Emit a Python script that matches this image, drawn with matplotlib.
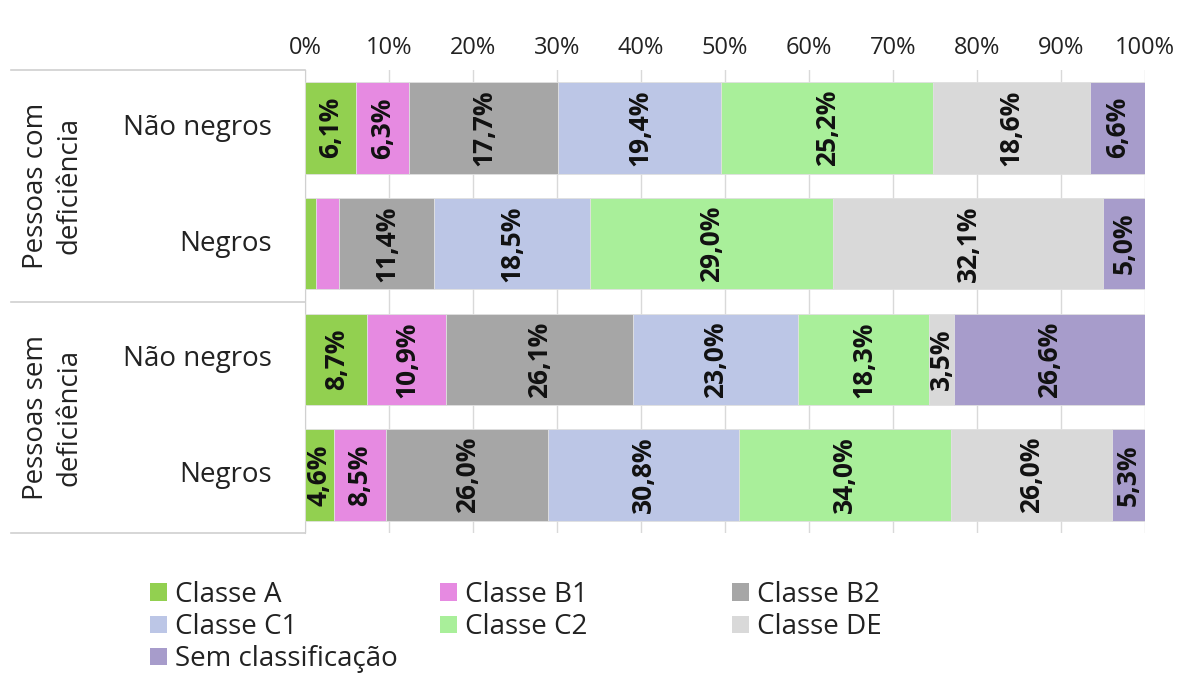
import matplotlib
matplotlib.use("Agg")
import matplotlib.pyplot as plt
from matplotlib.patches import Patch
from matplotlib.lines import Line2D
import numpy as np

plt.rcParams['font.family'] = ['Open Sans', 'DejaVu Sans']

# ---- data ----
groups = ["Pessoas com\ndeficiência", "Pessoas sem\ndeficiência"]
rows = ["Não negros", "Negros", "Não negros", "Negros"]
classes = ["Classe A", "Classe B1", "Classe B2", "Classe C1", "Classe C2",
           "Classe DE", "Sem classificação"]
classe_a = [6.1, 1.3, 8.7, 4.6]
classe_b1 = [6.3, 2.7, 10.9, 8.5]
classe_b2 = [17.7, 11.4, 26.1, 26.0]
classe_c1 = [19.4, 18.5, 23.0, 30.8]
classe_c2 = [25.2, 29.0, 18.3, 34.0]
classe_de = [18.6, 32.1, 3.5, 26.0]
sem_class = [6.6, 5.0, 26.6, 5.3]
show_label = [[True, False, True, True],
              [True, False, True, True],
              [True, True, True, True],
              [True, True, True, True],
              [True, True, True, True],
              [True, True, True, True],
              [True, True, True, True]]
xticks = [0, 10, 20, 30, 40, 50, 60, 70, 80, 90, 100]

colors = ["#92D050", "#E68AE1", "#A6A6A6", "#BCC6E6", "#A9EF9A",
          "#D9D9D9", "#A79CCB"]

series = np.array([classe_a, classe_b1, classe_b2, classe_c1, classe_c2,
                   classe_de, sem_class])
totals = series.sum(axis=0)
shares = series / totals * 100

W, H = 1182, 675
fig = plt.figure(figsize=(W / 100, H / 100), dpi=100)
ax_l, ax_r, ax_t, ax_b = 305, 1145, 70, 533
ax = fig.add_axes([ax_l / W, 1 - ax_b / H, (ax_r - ax_l) / W, (ax_b - ax_t) / H])

y = np.arange(len(rows))
left = np.zeros(len(rows))
handles = []
for i, cls in enumerate(classes):
    ax.barh(y, shares[i], left=left, height=0.79, color=colors[i],
            edgecolor="#E0E0E0", linewidth=0.6, zorder=3)
    for j in range(len(rows)):
        if show_label[i][j]:
            ax.text(left[j] + shares[i][j] / 2, y[j],
                    f"{series[i][j]:.1f}%".replace(".", ","),
                    rotation=90, ha="center", va="center",
                    fontsize=19, fontweight="bold", color="#111111", zorder=4)
    left += shares[i]
    handles.append(Patch(facecolor=colors[i], edgecolor="none", label=cls))

ax.set_xlim(0, 100)
ax.set_ylim(3.5, -0.5)
ax.set_xticks(xticks)
ax.set_xticklabels([f"{t}%" for t in xticks], fontsize=17, color="#222222")
ax.xaxis.tick_top()
ax.tick_params(axis="x", length=0, pad=7)
ax.set_yticks([])
ax.grid(axis="x", color="#D9D9D9", linewidth=1, zorder=0)
for s in ["top", "right", "bottom"]:
    ax.spines[s].set_visible(False)
ax.spines["left"].set_color("#D0D0D0")

# category labels
for j, r in enumerate(rows):
    ax.text(-0.039, y[j], r, transform=ax.get_yaxis_transform(),
            ha="right", va="center", fontsize=20, color="#222222")

# group labels
for g, name in enumerate(groups):
    yc = 2 * g + 0.5
    ax.text(-0.30, yc, name, transform=ax.get_yaxis_transform(),
            ha="center", va="center", rotation=90, fontsize=20,
            color="#222222", linespacing=1.25)

# table lines
for yy in [-0.5, 1.5, 3.5]:
    ax.add_line(Line2D([-0.35, 0], [yy, yy], transform=ax.get_yaxis_transform(),
                       color="#D0D0D0", linewidth=1.2, clip_on=False))

# legend: three columns placed side by side
col_x = [150, 440, 732]
for c in range(3):
    hs = handles[c::3]
    fig.legend(handles=hs, loc="upper left",
               bbox_to_anchor=(col_x[c] / W, 1 - 581 / H),
               frameon=False, fontsize=20, handlelength=0.6, handleheight=0.6,
               handletextpad=0.3, labelspacing=0.15, borderaxespad=0,
               borderpad=0, labelcolor="#222222")

fig.savefig("out.png", dpi=100)
